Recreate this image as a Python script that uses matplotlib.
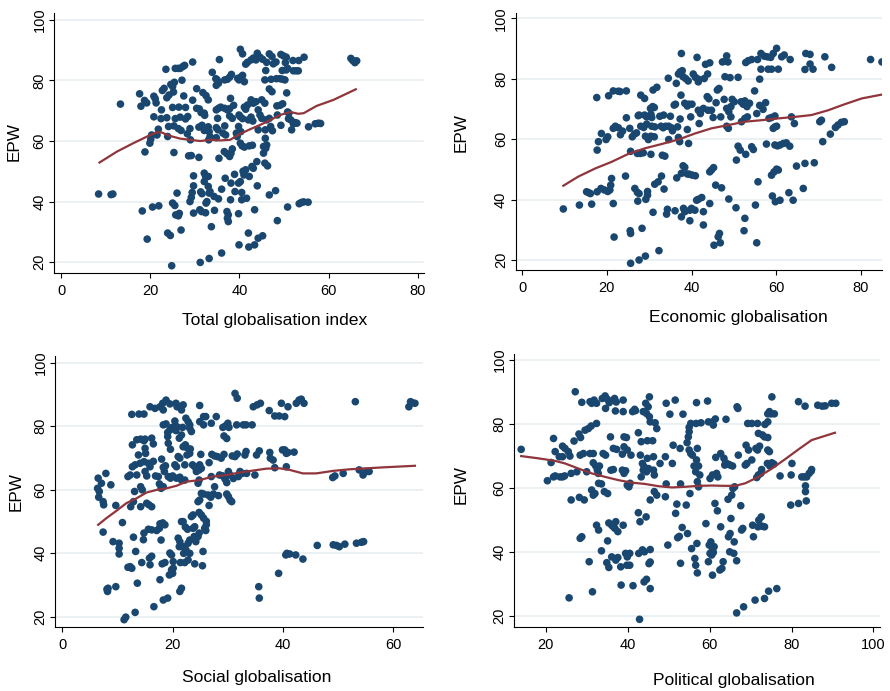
import matplotlib
matplotlib.use("Agg")
import matplotlib.pyplot as plt

plt.rcParams['font.family'] = ['Liberation Sans', 'DejaVu Sans']

# Total globalisation index vs EPW
total_x = [8.4, 11.2, 11.6, 13.3, 17.6, 17.9, 18.7, 19.2, 18.8, 18.2,
           19.3, 19.9, 20.1, 20.3, 20.8, 20.8, 21.1, 21.3, 20.5, 21.9,
           21.8, 21.5, 22.5, 22.7, 23.1, 23.5, 22.4, 23.7, 24.1, 23.9,
           23.7, 24.2, 24.6, 25.0, 25.4, 25.2, 25.6, 26.2, 26.7, 27.3,
           27.7, 27.1, 25.0, 26.4, 25.6, 26.7, 25.3, 26.3, 26.9, 25.3,
           23.9, 24.5, 24.8, 25.0, 25.5, 26.0, 25.7, 26.3, 26.5, 26.9,
           27.5, 27.9, 28.4, 27.9, 28.3, 28.9, 29.0, 29.5, 29.5, 28.6,
           29.2, 29.7, 29.7, 29.4, 29.2, 28.9, 29.7, 30.4, 30.4, 31.0,
           31.4, 30.9, 31.6, 32.1, 30.9, 31.1, 31.5, 31.2, 31.3, 31.6,
           31.8, 32.5, 32.1, 32.2, 32.1, 32.4, 32.1, 32.5, 32.7, 32.4,
           33.0, 33.0, 33.2, 33.4, 33.1, 33.0, 33.0, 33.4, 33.2, 33.2,
           33.7, 33.9, 34.3, 34.4, 34.7, 34.8, 35.0, 35.3, 34.8, 35.3,
           35.8, 34.8, 35.2, 34.8, 35.1, 35.4, 35.5, 35.3, 36.0, 36.0,
           36.3, 36.7, 37.3, 37.8, 36.7, 37.3, 37.8, 36.7, 36.9, 36.6,
           37.2, 37.8, 36.8, 37.2, 37.5, 37.5, 37.3, 38.0, 38.0, 37.8,
           38.4, 38.2, 38.1, 38.4, 38.1, 38.7, 39.0, 38.9, 39.3, 39.5,
           39.6, 39.9, 40.2, 40.7, 40.3, 40.7, 41.1, 39.9, 40.2, 40.7,
           39.8, 40.3, 40.2, 40.6, 41.1, 39.8, 40.2, 39.8, 39.9, 40.5,
           40.5, 40.8, 41.0, 41.4, 41.1, 41.4, 41.8, 41.4, 41.8, 41.6,
           42.0, 42.1, 42.0, 42.6, 43.0, 42.2, 42.9, 42.2, 42.8, 43.1,
           42.6, 43.1, 43.7, 42.6, 43.1, 43.7, 43.4, 43.4, 43.9, 44.0,
           44.0, 44.6, 45.2, 44.2, 44.6, 45.0, 44.2, 44.2, 45.2, 45.0,
           45.7, 45.4, 45.9, 46.1, 45.4, 45.7, 46.3, 45.7, 45.9, 45.8,
           45.8, 46.1, 46.7, 47.3, 46.1, 46.7, 46.7, 47.3, 47.1, 46.7,
           47.0, 47.4, 47.6, 48.2, 48.1, 48.3, 49.1, 49.7, 48.5, 48.4,
           49.1, 48.5, 49.3, 49.3, 49.9, 50.5, 49.6, 49.7, 50.2, 50.3,
           50.5, 50.8, 50.6, 50.8, 51.1, 50.8, 51.0, 51.5, 51.7, 52.1,
           52.5, 52.0, 52.1, 52.7, 53.2, 53.3, 52.9, 53.4, 53.9, 54.4,
           54.5, 55.4, 55.5, 57.0, 57.7, 58.2, 65.0, 65.4, 65.9, 66.3]
total_y = [42.5, 42.3, 42.5, 72.2, 75.6, 71.5, 73.4, 72.6, 56.4, 36.9,
           27.6, 59.3, 60.6, 62.0, 68.0, 74.8, 74.0, 72.6, 38.2, 38.6,
           63.9, 62.0, 70.3, 76.7, 77.4, 83.7, 67.4, 67.7, 64.8, 61.5,
           74.3, 75.2, 78.7, 78.0, 79.4, 76.2, 84.0, 84.0, 84.0, 84.6,
           85.0, 80.1, 71.1, 71.2, 67.4, 67.9, 65.0, 64.1, 63.5, 56.2,
           29.6, 28.8, 18.8, 39.5, 38.7, 42.8, 35.6, 35.3, 36.1, 30.6,
           74.9, 67.3, 68.1, 71.1, 62.4, 64.1, 60.4, 86.1, 73.5, 55.1,
           55.2, 48.5, 45.2, 43.0, 41.4, 40.0, 36.2, 77.3, 70.8, 70.6,
           69.4, 64.6, 65.2, 63.5, 54.6, 37.3, 36.7, 19.9, 43.2, 42.6,
           76.0, 75.0, 69.2, 68.5, 49.4, 48.3, 46.6, 39.5, 40.0, 36.3,
           73.6, 64.7, 63.1, 61.5, 60.4, 48.3, 45.0, 43.3, 42.8, 21.2,
           31.7, 82.7, 41.7, 37.1, 80.6, 78.4, 80.2, 79.1, 70.3, 70.8,
           71.2, 64.4, 63.7, 61.1, 67.5, 54.3, 86.9, 40.9, 44.1, 23.0,
           62.6, 80.2, 80.4, 81.1, 70.8, 70.3, 70.7, 65.0, 62.0, 56.5,
           55.8, 54.9, 47.7, 36.7, 35.6, 33.4, 34.5, 40.6, 74.1, 68.3,
           67.5, 82.0, 46.1, 57.4, 56.0, 71.8, 43.3, 49.0, 62.6, 61.5,
           80.7, 80.2, 90.3, 88.8, 81.1, 81.7, 79.6, 68.6, 68.0, 67.4,
           64.8, 63.1, 59.3, 58.4, 58.0, 46.1, 46.6, 36.0, 25.7, 43.0,
           40.6, 50.0, 48.8, 50.5, 71.2, 70.5, 71.9, 85.4, 86.0, 41.1,
           29.6, 25.0, 67.0, 67.9, 66.6, 58.4, 58.6, 48.3, 51.6, 51.0,
           86.8, 87.4, 86.8, 73.6, 72.5, 73.0, 37.3, 25.7, 53.2, 45.2,
           89.0, 87.7, 87.0, 70.3, 68.6, 67.5, 63.7, 27.9, 28.7, 73.6,
           72.5, 58.2, 57.6, 58.7, 56.0, 52.7, 51.8, 80.2, 83.3, 60.9,
           63.7, 86.0, 88.8, 87.9, 67.0, 67.5, 77.2, 76.3, 80.4, 42.2,
           64.8, 63.4, 85.5, 86.1, 43.6, 80.6, 80.6, 80.4, 33.7, 71.6,
           71.8, 68.6, 65.2, 88.6, 88.1, 87.7, 83.3, 72.3, 80.2, 85.9,
           83.5, 84.0, 75.9, 69.6, 69.2, 38.2, 67.4, 67.0, 63.7, 65.7,
           66.1, 86.6, 83.2, 83.2, 83.2, 86.6, 65.9, 39.3, 39.7, 39.9,
           87.7, 39.8, 64.7, 65.7, 65.9, 65.8, 87.3, 86.6, 85.9, 86.5]
total_fit_x = [8.6, 12.5, 16.2, 20.0, 21.5, 22.6, 24.4, 26.7, 28.9, 31.2, 33.4, 35.7,
               37.9, 40.2, 42.4, 44.6, 47.0, 49.1, 51.4, 53.2, 54.4, 57.3, 61.1, 66.1]
total_fit_y = [52.9, 56.5, 59.3, 62.0, 62.9, 62.8, 61.7, 60.8, 60.4, 60.0, 60.4, 60.2,
               60.4, 62.4, 63.9, 65.3, 67.0, 68.6, 69.6, 69.0, 69.2, 71.6, 73.6, 77.1]

# Economic globalisation vs EPW
econ_x = [9.7, 13.5, 16.4, 15.2, 15.7, 16.1, 17.6, 17.7, 18.0, 17.7,
          18.6, 18.7, 19.8, 20.2, 19.4, 20.2, 20.7, 20.4, 20.9, 21.1,
          21.5, 22.7, 23.1, 21.5, 21.7, 21.5, 22.0, 22.7, 23.2, 23.7,
          24.6, 24.6, 24.4, 25.4, 25.6, 25.5, 25.6, 25.6, 26.0, 26.5,
          27.0, 26.6, 27.2, 27.6, 27.4, 27.6, 27.2, 27.9, 27.3, 27.6,
          28.0, 28.9, 28.0, 28.7, 29.4, 28.3, 28.6, 28.9, 29.4, 29.1,
          29.1, 29.2, 29.6, 29.6, 29.8, 30.4, 30.3, 30.8, 31.2, 30.4,
          30.6, 30.4, 30.6, 31.3, 30.9, 31.8, 30.9, 31.2, 31.3, 32.1,
          32.3, 32.5, 33.4, 32.8, 33.3, 33.9, 32.9, 33.1, 33.7, 33.5,
          34.1, 34.3, 34.5, 34.6, 35.2, 35.5, 35.0, 34.6, 35.9, 36.2,
          36.1, 36.4, 36.7, 36.5, 36.9, 37.3, 37.8, 36.9, 37.2, 37.3,
          37.5, 37.6, 38.0, 38.4, 37.6, 37.6, 38.1, 38.4, 38.0, 38.6,
          38.4, 39.0, 39.4, 39.0, 39.0, 39.5, 40.2, 40.9, 39.2, 39.3,
          39.6, 40.0, 39.6, 39.8, 40.1, 40.4, 40.9, 41.6, 40.8, 41.2,
          41.6, 41.3, 41.6, 41.6, 42.1, 42.8, 41.8, 42.4, 42.8, 42.8,
          43.0, 43.8, 43.3, 44.3, 43.7, 44.1, 43.9, 44.7, 44.3, 44.3,
          44.7, 45.2, 45.1, 45.3, 45.7, 45.8, 46.1, 46.5, 46.3, 46.6,
          46.8, 46.9, 47.1, 47.3, 48.0, 48.6, 47.7, 47.9, 49.1, 48.3,
          48.3, 48.8, 49.3, 48.3, 48.7, 48.8, 49.3, 49.6, 50.1, 50.5,
          50.6, 51.0, 51.0, 51.5, 51.7, 52.2, 52.6, 51.8, 52.6, 52.4,
          52.6, 52.8, 53.4, 54.2, 52.8, 53.1, 53.7, 53.2, 54.2, 54.6,
          54.9, 55.1, 55.4, 55.4, 55.6, 56.4, 57.2, 55.7, 56.1, 56.1,
          56.9, 57.5, 56.4, 57.7, 57.9, 58.7, 59.3, 60.1, 58.1, 58.9,
          58.3, 58.9, 58.9, 59.5, 60.1, 60.5, 59.1, 59.8, 60.9, 59.3,
          59.7, 60.1, 59.7, 60.3, 60.9, 60.5, 59.7, 61.3, 61.9, 61.7,
          62.4, 63.2, 63.0, 63.3, 63.6, 64.0, 64.3, 64.8, 66.4, 66.8,
          66.8, 67.0, 68.0, 68.0, 68.7, 69.0, 70.3, 70.7, 71.0, 71.5,
          72.8, 73.1, 74.0, 74.6, 75.4, 76.1, 82.3, 85.0]
econ_y = [36.9, 38.2, 38.5, 42.6, 42.3, 42.0, 73.8, 56.4, 59.2, 42.6,
          43.7, 61.9, 59.9, 60.8, 43.2, 42.7, 43.2, 74.4, 44.8, 47.0,
          76.0, 75.9, 75.8, 38.7, 27.6, 63.6, 64.3, 63.8, 61.5, 62.7,
          76.0, 67.1, 47.8, 63.6, 56.0, 29.7, 28.8, 18.9, 60.8, 61.7,
          62.1, 43.7, 42.4, 42.0, 67.8, 68.0, 55.3, 55.3, 39.5, 20.0,
          74.6, 73.5, 64.3, 63.9, 65.0, 30.5, 55.5, 68.0, 67.4, 61.0,
          21.3, 40.1, 41.5, 42.7, 59.9, 61.0, 70.2, 70.8, 70.5, 68.3,
          67.2, 55.0, 64.3, 64.1, 76.3, 77.2, 35.8, 60.8, 45.1, 45.9,
          23.1, 67.6, 68.0, 64.3, 63.8, 64.3, 47.8, 54.7, 54.4, 43.5,
          35.2, 36.8, 80.2, 64.3, 63.8, 62.8, 67.6, 59.9, 71.3, 71.6,
          36.3, 78.5, 64.1, 47.2, 81.6, 82.3, 82.7, 60.6, 59.2, 66.7,
          74.6, 48.7, 51.2, 50.7, 88.4, 34.3, 37.1, 36.0, 80.7, 80.1,
          71.9, 71.0, 71.6, 63.2, 48.5, 48.4, 48.1, 47.9, 79.3, 58.6,
          36.5, 37.1, 33.0, 67.4, 71.6, 81.6, 80.5, 79.9, 36.5, 39.8,
          40.1, 87.1, 79.0, 69.6, 68.5, 70.2, 65.2, 40.7, 36.0, 31.6,
          80.1, 81.6, 84.8, 85.3, 74.1, 73.4, 69.6, 69.6, 38.7, 49.2,
          49.8, 50.6, 67.2, 24.9, 44.8, 72.1, 76.3, 76.8, 27.7, 28.8,
          25.7, 67.4, 43.9, 85.6, 85.9, 85.6, 73.2, 80.7, 80.4, 87.6,
          70.2, 69.1, 70.8, 64.3, 63.6, 40.2, 67.4, 73.2, 72.4, 37.3,
          53.1, 80.5, 57.7, 56.4, 72.4, 71.6, 72.7, 65.8, 66.9, 29.7,
          33.8, 85.4, 86.0, 86.4, 55.0, 70.8, 71.9, 67.4, 57.5, 56.6,
          76.0, 38.2, 25.7, 68.5, 86.4, 88.4, 87.5, 45.9, 79.9, 71.2,
          69.9, 72.1, 83.2, 58.4, 87.3, 87.1, 88.4, 90.1, 83.2, 83.2,
          66.9, 67.2, 48.1, 49.2, 50.1, 49.8, 41.2, 39.3, 39.8, 63.6,
          64.1, 64.3, 58.1, 57.8, 58.1, 83.2, 67.7, 87.3, 87.9, 58.6,
          58.8, 57.7, 42.3, 86.4, 67.4, 39.8, 65.2, 51.1, 43.7, 52.0,
          83.1, 88.4, 88.1, 84.9, 83.2, 52.2, 65.8, 66.3, 59.2, 87.3,
          61.7, 83.8, 63.9, 64.7, 65.6, 65.8, 86.4, 85.6]
econ_fit_x = [9.7, 13.2, 17.2, 21.1, 25.0, 29.0, 32.9, 36.9, 40.8, 44.7,
              48.7, 52.6, 56.5, 60.5, 64.4, 68.3, 72.3, 76.2, 80.2, 85.0]
econ_fit_y = [44.6, 47.6, 50.3, 52.5, 55.1, 57.0, 58.4, 59.9, 61.9, 63.6,
              64.7, 65.8, 66.3, 66.9, 67.4, 68.0, 69.6, 71.6, 73.5, 74.8]

# Social globalisation vs EPW
soc_x = [6.5, 6.4, 6.7, 6.6, 7.1, 7.4, 7.5, 7.9, 7.4, 8.1,
         8.2, 8.3, 8.8, 9.2, 9.7, 9.7, 10.3, 10.3, 10.3, 10.9,
         11.2, 11.5, 11.9, 12.3, 11.9, 12.3, 12.6, 12.4, 12.7, 12.6,
         12.7, 13.2, 12.9, 13.1, 12.9, 13.2, 13.3, 13.5, 13.8, 13.5,
         13.6, 13.9, 14.8, 14.1, 14.8, 14.2, 14.8, 15.0, 14.2, 14.5,
         14.2, 14.4, 14.7, 14.8, 15.0, 15.1, 15.0, 15.3, 15.3, 15.7,
         16.2, 15.6, 16.2, 15.6, 15.9, 15.8, 16.2, 15.9, 15.9, 16.2,
         16.5, 16.5, 16.6, 16.8, 16.9, 17.4, 17.1, 17.6, 17.7, 18.2,
         18.6, 17.7, 18.2, 18.3, 18.0, 17.6, 17.9, 18.3, 17.9, 17.7,
         18.1, 18.6, 18.3, 18.3, 18.7, 18.5, 18.3, 18.8, 18.8, 19.5,
         19.1, 19.5, 19.9, 19.1, 19.2, 19.6, 19.2, 19.6, 20.0, 19.1,
         19.4, 19.5, 19.8, 19.8, 20.0, 20.1, 20.1, 20.6, 20.8, 20.1,
         20.4, 20.4, 20.7, 20.6, 20.8, 20.7, 21.3, 21.6, 21.0, 21.3,
         21.0, 21.3, 21.2, 21.2, 21.6, 21.3, 21.6, 21.6, 21.9, 21.3,
         21.6, 21.9, 21.8, 21.4, 22.2, 21.9, 22.0, 22.4, 22.2, 21.9,
         22.3, 22.5, 22.2, 22.3, 22.7, 22.4, 22.8, 22.6, 23.1, 22.8,
         23.1, 22.8, 23.1, 23.1, 23.4, 23.1, 23.2, 23.4, 23.7, 23.6,
         24.0, 23.7, 24.0, 23.9, 24.0, 24.2, 24.3, 24.8, 24.6, 24.9,
         24.6, 24.8, 24.6, 24.8, 24.8, 25.2, 25.6, 24.9, 24.9, 24.9,
         25.2, 25.1, 25.2, 25.6, 25.5, 25.4, 25.6, 26.0, 25.6, 25.8,
         26.0, 26.1, 26.1, 26.4, 26.6, 26.6, 26.9, 27.4, 27.6, 27.1,
         27.6, 28.1, 27.0, 27.0, 27.9, 28.3, 28.5, 29.1, 28.8, 29.3,
         29.1, 29.6, 30.0, 30.2, 29.3, 29.8, 29.5, 29.8, 29.8, 30.1,
         30.4, 30.7, 30.1, 30.4, 30.8, 31.0, 31.3, 31.7, 31.3, 31.7,
         31.6, 31.9, 32.2, 32.6, 32.8, 33.3, 33.1, 33.3, 33.4, 34.4,
         34.6, 34.9, 35.2, 35.7, 35.3, 35.9, 35.6, 35.7, 37.5, 37.6,
         37.7, 38.2, 38.5, 38.5, 39.3, 40.3, 39.2, 39.7, 39.9, 40.3,
         40.6, 40.9, 40.5, 40.7, 41.2, 40.6, 40.9, 42.0, 42.3, 42.4,
         42.9, 43.3, 43.8, 43.6, 46.2, 49.0, 49.4, 49.1, 49.7, 50.2,
         51.2, 50.9, 53.1, 53.3, 54.2, 54.6, 53.8, 54.5, 55.1, 55.6,
         62.8, 63.4, 63.9, 63.1]
soc_y = [63.6, 60.4, 59.4, 57.6, 62.0, 56.2, 55.2, 65.1, 46.6, 28.6,
         27.9, 28.9, 61.5, 43.6, 55.0, 29.4, 43.1, 41.5, 39.7, 49.6,
         19.0, 19.8, 64.1, 64.6, 35.5, 35.7, 35.2, 54.6, 74.1, 83.7,
         67.2, 67.8, 45.0, 59.4, 56.2, 21.3, 40.5, 75.7, 70.9, 64.6,
         30.5, 83.8, 83.8, 68.3, 68.8, 75.9, 75.4, 75.9, 60.9, 59.9,
         54.6, 37.0, 44.2, 46.3, 73.0, 71.4, 65.7, 64.3, 55.7, 55.2,
         54.6, 47.5, 47.3, 68.3, 67.2, 38.4, 39.0, 36.3, 86.1, 76.2,
         74.4, 68.9, 23.1, 85.6, 64.3, 64.1, 47.1, 47.8, 49.2, 49.5,
         48.9, 86.1, 87.2, 85.1, 69.6, 61.8, 60.4, 60.9, 44.1, 31.6,
         36.6, 37.0, 25.2, 67.0, 67.5, 65.7, 80.4, 80.7, 88.2, 87.0,
         78.0, 78.8, 79.6, 76.7, 74.6, 72.7, 64.1, 63.6, 64.3, 25.8,
         33.1, 40.0, 39.4, 34.7, 33.6, 35.2, 79.4, 78.6, 79.8, 37.3,
         81.6, 67.8, 67.2, 87.2, 86.1, 63.6, 63.9, 63.0, 70.4, 69.9,
         44.7, 43.6, 42.0, 76.2, 77.2, 27.9, 28.9, 85.1, 86.7, 86.1,
         49.9, 49.9, 79.6, 37.0, 37.0, 42.0, 39.9, 41.0, 67.8, 73.5,
         74.1, 73.3, 63.0, 48.2, 47.5, 82.5, 81.4, 70.9, 71.4, 37.8,
         39.9, 43.1, 44.1, 79.3, 78.3, 80.4, 72.8, 51.5, 52.0, 67.8,
         67.2, 47.8, 48.3, 45.2, 36.6, 43.6, 65.7, 66.2, 56.2, 56.7,
         62.0, 63.0, 45.2, 46.3, 52.8, 52.0, 51.0, 86.5, 81.4, 67.8,
         66.7, 71.1, 58.8, 58.6, 40.5, 36.0, 83.0, 83.0, 80.4, 47.8,
         47.1, 48.9, 50.0, 58.3, 68.5, 55.0, 57.6, 58.6, 60.9, 71.1,
         70.6, 70.4, 64.1, 80.9, 83.0, 58.1, 64.6, 64.3, 69.9, 71.1,
         79.6, 80.1, 80.9, 79.6, 76.9, 76.1, 63.3, 62.2, 58.6, 57.8,
         56.7, 56.2, 65.7, 64.6, 70.6, 63.5, 90.3, 88.8, 70.4, 71.2,
         80.4, 64.1, 65.7, 65.1, 80.4, 80.4, 70.9, 72.0, 65.1, 80.4,
         86.1, 64.6, 70.9, 72.2, 86.7, 87.2, 29.4, 25.8, 84.9, 71.7,
         69.9, 69.3, 66.9, 83.2, 83.2, 83.0, 33.6, 87.2, 72.5, 72.5,
         71.4, 71.7, 39.4, 39.9, 39.7, 67.2, 86.1, 71.8, 39.4, 87.2,
         88.2, 88.5, 87.2, 38.1, 42.4, 63.8, 64.3, 42.6, 42.4, 42.0,
         42.8, 65.1, 87.7, 43.1, 43.4, 43.6, 66.2, 64.6, 65.7, 65.7,
         86.1, 87.4, 87.2, 87.7]
soc_fit_x = [6.5, 8.0, 9.8, 11.6, 13.5, 15.3, 17.1, 18.9, 20.7, 22.5, 24.9, 27.3, 29.8,
             32.2, 34.6, 37.0, 39.4, 41.2, 43.6, 46.0, 49.1, 52.1, 55.1, 58.1, 63.9]
soc_fit_y = [48.9, 51.0, 53.3, 55.7, 57.3, 59.1, 59.9, 60.4, 61.2, 62.5, 63.0, 64.1, 64.6,
             65.4, 66.0, 66.6, 66.7, 66.2, 65.1, 65.1, 65.9, 66.4, 66.7, 67.0, 67.5]

# Political globalisation vs EPW
pol_x = [14.0, 20.4, 21.3, 21.9, 22.3, 21.9, 22.3, 23.3, 24.1, 23.5,
         24.1, 24.6, 24.1, 24.7, 25.5, 25.7, 25.9, 26.2, 26.2, 26.9,
         27.2, 27.6, 28.2, 28.4, 28.5, 28.1, 28.4, 28.8, 28.8, 29.2,
         29.4, 29.6, 30.0, 30.4, 31.1, 30.6, 30.8, 31.2, 31.8, 32.4,
         30.8, 31.6, 31.2, 31.6, 32.0, 31.4, 31.6, 32.2, 32.4, 32.4,
         32.9, 32.6, 32.8, 32.9, 33.6, 33.1, 33.6, 33.8, 34.5, 35.1,
         34.0, 34.6, 34.3, 35.1, 34.6, 34.9, 35.4, 35.1, 35.4, 36.1,
         35.5, 35.8, 35.9, 36.5, 36.1, 36.5, 36.9, 36.5, 37.3, 36.8,
         37.2, 37.0, 37.1, 37.6, 37.1, 37.6, 38.3, 38.4, 38.7, 39.1,
         39.5, 38.7, 39.1, 38.9, 39.1, 39.7, 38.9, 38.9, 39.5, 39.9,
         40.5, 39.8, 40.5, 39.9, 40.3, 40.6, 39.9, 40.8, 41.3, 41.2,
         41.7, 41.9, 42.6, 42.6, 43.0, 42.7, 42.9, 43.1, 43.3, 43.3,
         43.8, 43.6, 44.1, 43.6, 44.0, 44.6, 45.1, 43.8, 44.6, 45.0,
         44.4, 44.0, 44.6, 44.5, 44.8, 44.8, 45.3, 45.3, 45.5, 45.2,
         45.5, 45.5, 45.5, 45.5, 46.1, 46.3, 46.3, 46.5, 46.5, 47.1,
         46.7, 47.1, 47.9, 49.2, 49.2, 49.4, 49.4, 49.8, 50.3, 50.9,
         51.1, 51.6, 51.7, 52.0, 52.2, 52.6, 52.8, 52.9, 52.9, 53.3,
         53.5, 54.3, 54.6, 54.5, 54.8, 55.0, 55.0, 55.4, 55.8, 55.0,
         55.2, 55.4, 55.6, 56.2, 56.6, 56.8, 56.4, 56.6, 56.7, 56.8,
         56.9, 57.0, 57.0, 57.0, 57.3, 57.3, 57.6, 57.9, 59.1, 59.5,
         59.7, 59.7, 60.7, 59.9, 60.3, 60.5, 60.1, 60.1, 60.7, 60.7,
         61.1, 60.9, 60.7, 60.9, 61.3, 61.4, 61.5, 61.7, 62.0, 61.9,
         62.5, 63.0, 63.3, 62.7, 62.7, 63.5, 63.9, 63.7, 64.5, 64.0,
         64.5, 64.6, 65.0, 64.9, 65.9, 65.0, 65.6, 65.2, 65.4, 65.7,
         66.1, 66.0, 66.6, 66.7, 66.9, 66.6, 67.0, 67.6, 67.8, 68.1,
         68.3, 68.7, 69.1, 68.9, 69.3, 70.3, 69.5, 70.3, 70.5, 70.7,
         71.1, 71.3, 71.7, 72.2, 71.5, 71.9, 72.5, 71.7, 71.9, 72.9,
         73.4, 74.2, 72.0, 72.6, 71.8, 72.8, 73.4, 72.7, 73.4, 74.4,
         73.5, 74.2, 74.2, 75.0, 75.8, 74.6, 74.2, 74.6, 74.1, 74.7,
         75.2, 75.7, 75.2, 76.4, 77.2, 79.9, 80.1, 79.8, 81.7, 81.7,
         82.5, 83.1, 83.7, 84.3, 84.8, 84.9, 83.3, 83.4, 83.4, 83.6,
         86.4, 87.5, 88.2, 89.8, 90.8]
pol_y = [72.1, 62.3, 68.0, 63.5, 63.8, 75.5, 71.4, 69.8, 69.8, 63.5,
         63.5, 63.8, 73.1, 72.4, 71.4, 25.7, 70.0, 56.3, 64.6, 74.7,
         90.1, 65.1, 57.1, 70.3, 75.8, 76.9, 44.3, 44.8, 86.8, 70.8,
         56.3, 78.1, 65.1, 78.6, 79.4, 37.0, 87.0, 86.5, 87.5, 86.5,
         70.8, 70.8, 59.4, 57.8, 58.3, 27.6, 67.9, 66.9, 80.2, 48.4,
         46.9, 65.6, 64.6, 61.5, 61.3, 66.9, 40.4, 88.0, 88.8, 87.7,
         70.8, 70.3, 58.9, 58.3, 84.9, 36.7, 35.2, 43.5, 49.1, 48.4,
         86.7, 76.0, 65.6, 65.8, 38.5, 47.9, 47.4, 72.4, 72.1, 88.0,
         86.9, 84.1, 37.5, 38.3, 49.5, 46.4, 35.4, 29.7, 65.6, 64.6,
         65.4, 70.6, 72.9, 83.9, 76.0, 75.8, 87.5, 48.4, 39.6, 38.5,
         39.6, 35.9, 35.9, 60.9, 60.4, 61.5, 71.9, 70.3, 29.5, 83.9,
         84.6, 84.2, 77.3, 52.3, 49.5, 39.6, 19.0, 70.3, 74.5, 63.5,
         65.6, 40.7, 40.1, 67.7, 66.7, 65.1, 66.1, 83.9, 83.3, 85.4,
         86.5, 30.7, 31.5, 51.0, 74.8, 69.3, 88.5, 82.3, 80.7, 36.4,
         36.9, 28.6, 56.3, 40.8, 74.8, 65.6, 69.8, 64.1, 58.9, 57.8,
         80.4, 78.6, 67.7, 69.8, 57.3, 61.3, 86.5, 42.2, 83.1, 67.7,
         73.4, 87.5, 52.1, 55.0, 44.5, 44.9, 72.4, 61.3, 36.5, 47.7,
         83.1, 54.7, 45.8, 74.2, 76.0, 77.6, 71.9, 70.8, 70.3, 79.0,
         58.3, 80.2, 41.1, 66.9, 65.1, 68.8, 38.0, 35.9, 80.2, 86.7,
         42.7, 33.5, 72.4, 62.0, 60.4, 66.9, 64.1, 80.4, 48.9, 87.2,
         37.0, 80.7, 80.7, 42.2, 43.2, 39.1, 39.6, 63.0, 64.1, 40.7,
         41.7, 39.9, 32.8, 79.7, 55.2, 81.6, 69.6, 64.6, 63.5, 52.9,
         34.4, 34.9, 37.0, 70.8, 47.9, 69.3, 67.9, 67.2, 67.5, 81.5,
         56.5, 44.8, 45.8, 40.1, 39.6, 67.2, 66.9, 50.5, 57.8, 59.9,
         60.4, 43.2, 37.3, 85.4, 84.9, 21.0, 70.3, 54.5, 46.9, 47.4,
         22.9, 67.2, 67.7, 73.4, 80.2, 80.2, 71.9, 68.8, 48.4, 44.8,
         25.0, 72.4, 71.9, 73.1, 63.3, 64.1, 64.6, 80.2, 77.1, 76.6,
         76.0, 75.8, 50.0, 51.0, 47.9, 48.1, 47.9, 65.8, 25.5, 27.8,
         79.9, 80.7, 83.2, 83.2, 83.2, 83.9, 71.9, 71.4, 67.7, 66.9,
         67.9, 67.5, 88.5, 28.6, 63.8, 64.1, 67.7, 54.7, 87.0, 55.2,
         63.5, 63.5, 63.5, 64.6, 65.3, 65.8, 85.6, 60.7, 58.9, 56.0,
         85.9, 85.6, 85.7, 86.5, 86.5]
pol_fit_x = [14.0, 18.2, 22.3, 24.7, 28.0, 31.2, 34.5, 37.7, 41.0, 44.2, 47.5, 50.8,
             54.0, 57.3, 60.5, 63.8, 66.2, 68.7, 71.9, 75.2, 78.4, 81.7, 84.9, 90.6]
pol_fit_y = [70.0, 69.3, 68.5, 67.7, 66.1, 64.6, 63.5, 62.5, 61.7, 61.3, 60.6, 60.2,
             60.4, 60.7, 60.8, 60.7, 60.7, 61.5, 63.5, 66.1, 69.0, 72.1, 75.0, 77.3]

y_ticks = [20, 40, 60, 80, 100]

DOT = '#1a476f'
FIT = '#90353b'
GRID = '#e6eef0'


def panel(ax, x, y, fx, fy, xlabel, xlim, ylim, xticks, xlab_pos, ylab_pos):
    ax.set_xlim(xlim)
    ax.set_ylim(ylim)
    for t in y_ticks:
        ax.axhline(t, color=GRID, lw=1.1, zorder=0)
    ax.scatter(x, y, s=30, color=DOT, edgecolors='none', zorder=2)
    ax.plot(fx, fy, color=FIT, lw=1.6, zorder=3)
    ax.set_xticks(xticks)
    ax.set_yticks(y_ticks)
    ax.spines['top'].set_visible(False)
    ax.spines['right'].set_visible(False)
    ax.spines['left'].set_linewidth(0.8)
    ax.spines['bottom'].set_linewidth(0.8)
    ax.tick_params(axis='both', direction='out', length=3.5, width=0.8,
                   labelsize=10.5, color='black')
    ax.tick_params(axis='x', pad=4.5)
    ax.tick_params(axis='y', pad=2, labelrotation=90)
    for lbl in ax.get_yticklabels():
        lbl.set_va('center')
    ax.set_xlabel(xlabel, fontsize=12.6)
    ax.set_ylabel('EPW', fontsize=12.3)
    ax.xaxis.set_label_coords(*xlab_pos)
    ax.yaxis.set_label_coords(*ylab_pos)


fig = plt.figure(figsize=(8.9, 6.91), dpi=100)

ax1 = fig.add_axes([0.0607, 0.6049, 0.4157, 0.3763])
panel(ax1, total_x, total_y, total_fit_x, total_fit_y, 'Total globalisation index',
      (-1.6, 81.4), (16.4, 102.3), [0, 20, 40, 60, 80], (0.597, -0.154), (-0.087, 0.504))

ax2 = fig.add_axes([0.5794, 0.6093, 0.4116, 0.3723])
panel(ax2, econ_x, econ_y, econ_fit_x, econ_fit_y, 'Economic globalisation',
      (-1.56, 85.0), (16.7, 101.9), [0, 20, 40, 60, 80], (0.607, -0.155), (-0.129, 0.536))

ax3 = fig.add_axes([0.0621, 0.0922, 0.4128, 0.3926])
panel(ax3, soc_x, soc_y, soc_fit_x, soc_fit_y, 'Social globalisation',
      (-1.27, 65.3), (16.6, 102.1), [0, 20, 40, 60], (0.549, -0.157), (-0.085, 0.5))

ax4 = fig.add_axes([0.5779, 0.0931, 0.4109, 0.3946])
panel(ax4, pol_x, pol_y, pol_fit_x, pol_fit_y, 'Political globalisation',
      (12.33, 101.6), (16.7, 101.9), [20, 40, 60, 80, 100], (0.601, -0.169), (-0.124, 0.52))

fig.savefig('out.png', dpi=100, facecolor='white')
